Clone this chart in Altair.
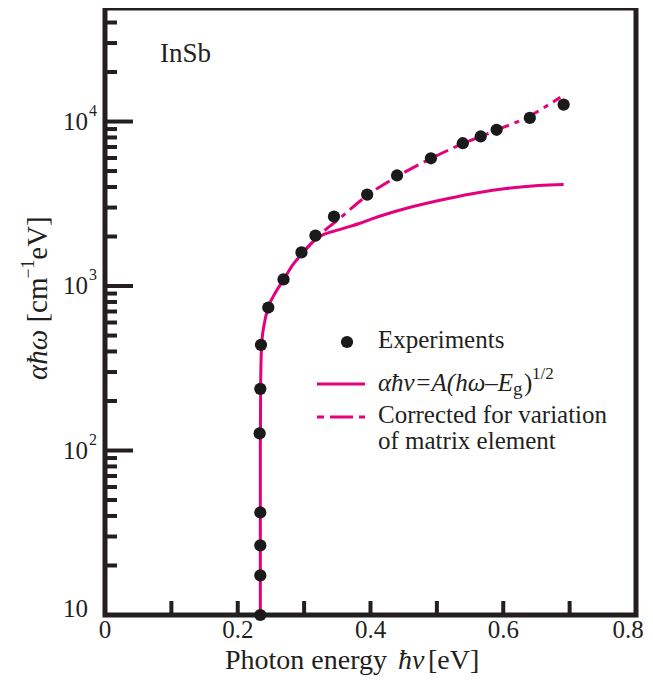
import altair as alt
import pandas as pd

# ---------------- data ----------------
exp_x = [0.234, 0.234, 0.234, 0.234, 0.233, 0.234, 0.235, 0.246, 0.269, 0.296,
         0.317, 0.345, 0.395, 0.440, 0.491, 0.539, 0.566, 0.590, 0.640, 0.691]
exp_y = [10, 17.4, 26.5, 42, 127, 237, 439, 740, 1097, 1600,
         2027, 2645, 3595, 4700, 5980, 7380, 8110, 8910, 10520, 12670]

solid_x = [0.234, 0.234, 0.2345, 0.236, 0.240, 0.246, 0.256, 0.269, 0.282, 0.296,
           0.320, 0.353, 0.383, 0.402, 0.453, 0.503, 0.553, 0.604, 0.653, 0.691]
solid_y = [10, 100, 250, 440, 590, 740, 900, 1090, 1330, 1560,
           1960, 2200, 2400, 2560, 2960, 3310, 3640, 3910, 4080, 4140]

dash_x = [0.296, 0.320, 0.353, 0.395, 0.440, 0.490, 0.538, 0.588, 0.638, 0.686]
dash_y = [1560, 1990, 2565, 3550, 4630, 5930, 7310, 8810, 10720, 14060]

x_tick_vals = [0.1, 0.2, 0.3, 0.4, 0.5, 0.6, 0.7]
x_label_vals = [0, 0.2, 0.4, 0.6]
x_label_text = ["0", "0.2", "0.4", "0.6"]
x_last_val = [0.8]
x_last_text = ["0.8"]
y_major = [100, 1000, 10000]
y_label_sup = ["2", "3", "4"]
y_bottom = [10]
y_minor = [20, 30, 40, 50, 60, 70, 80, 90,
           200, 300, 400, 500, 600, 700, 800, 900,
           2000, 3000, 4000, 5000, 6000, 7000, 8000, 9000,
           20000, 30000, 40000]

# ---------------- styling ----------------
PINK = "#E5007D"
INK = "#231F20"
FONT = "Liberation Serif"
W, H = 531, 607

xs = alt.Scale(domain=[0, 0.8], nice=False, zero=False)
ys = alt.Scale(type="log", domain=[10, 49000], nice=False)


def X(field):
    return alt.X(f"{field}:Q", scale=xs, axis=None)


def Y(field):
    return alt.Y(f"{field}:Q", scale=ys, axis=None)


exp_df = pd.DataFrame({"x": exp_x, "y": exp_y})
solid_df = pd.DataFrame({"x": solid_x, "y": solid_y})
dash_df = pd.DataFrame({"x": dash_x, "y": dash_y})

solid = alt.Chart(solid_df).mark_line(color=PINK, strokeWidth=3, interpolate="monotone",
                                      clip=True).encode(x=X("x"), y=Y("y"))
dashed = alt.Chart(dash_df).mark_line(color=PINK, strokeWidth=3, interpolate="monotone",
                                      strokeDash=[16, 6, 5, 6], clip=True).encode(x=X("x"), y=Y("y"))
points = alt.Chart(exp_df).mark_point(filled=True, size=150, color="#1a1a1a",
                                      opacity=1).encode(x=X("x"), y=Y("y"))

# inward ticks
xt = alt.Chart(pd.DataFrame({"xt": x_tick_vals})).mark_rule(color=INK, strokeWidth=4).encode(
    x=X("xt"), y=alt.value(H), y2=alt.value(H - 14))
ymaj = alt.Chart(pd.DataFrame({"yt": y_bottom + y_major})).mark_rule(color=INK, strokeWidth=4).encode(
    y=Y("yt"), x=alt.value(0), x2=alt.value(28))
ymin = alt.Chart(pd.DataFrame({"yt": y_minor})).mark_rule(color=INK, strokeWidth=4).encode(
    y=Y("yt"), x=alt.value(0), x2=alt.value(12))

# x tick labels
xlab = alt.Chart(pd.DataFrame({"xl": x_label_vals, "t": x_label_text})).mark_text(
    font=FONT, fontSize=25, color=INK, align="center", baseline="middle").encode(
    x=X("xl"), y=alt.value(H + 15), text="t:N")
xlab_last = alt.Chart(pd.DataFrame({"xl": x_last_val, "t": x_last_text})).mark_text(
    font=FONT, fontSize=25, color=INK, align="center", baseline="middle", dx=-8).encode(
    x=X("xl"), y=alt.value(H + 15), text="t:N")

# y tick labels with superscripts
ylab = alt.Chart(pd.DataFrame({"yl": y_major, "sup": y_label_sup})).mark_text(
    font=FONT, fontSize=25, color=INK, align="right", baseline="middle").encode(
    y=Y("yl"), x=alt.value(-17), text=alt.value("10"))
ysup = alt.Chart(pd.DataFrame({"yl": y_major, "sup": y_label_sup})).mark_text(
    font=FONT, fontSize=16, color=INK, align="left", baseline="middle", dy=-11).encode(
    y=Y("yl"), x=alt.value(-16), text="sup:N")
ylab_bottom = alt.Chart(pd.DataFrame({"yl": y_bottom})).mark_text(
    font=FONT, fontSize=25, color=INK, align="right", baseline="middle", dy=-6).encode(
    y=Y("yl"), x=alt.value(-17), text=alt.value("10"))


def txt(s, x, y, size=25, style="normal", align="left", angle=0, baseline="middle"):
    return alt.Chart(pd.DataFrame({"t": [s]})).mark_text(
        font=FONT, fontSize=size, fontStyle=style, color=INK, align=align,
        baseline=baseline, angle=angle).encode(x=alt.value(x), y=alt.value(y), text="t:N")


texts = [
    txt("InSb", 55, 46, size=27),
    # x title
    txt("Photon energy", 120, 661, size=28, baseline="alphabetic"),
    txt("ħν", 293, 661, size=28, style="italic", baseline="alphabetic"),
    txt("[eV]", 323, 661, size=28, baseline="alphabetic"),
    # y title (rotated)
    txt("αħω", -67, 347, size=29, style="italic", align="center", angle=270),
    txt("[cm", -67, 292, size=29, align="center", angle=270),
    txt("−1", -76, 261, size=18, align="center", angle=270),
    txt("eV]", -67, 230, size=29, align="center", angle=270),
    # legend
    txt("Experiments", 273, 332),
    txt("αħν=A(hω–E", 273, 375, style="italic"),
    txt("g", 408, 381, size=19),
    txt(")", 419, 375),
    txt("1/2", 427, 366, size=17),
    txt("Corrected for variation", 273, 407),
    txt("of matrix element", 273, 433),
]

leg_pt = alt.Chart(pd.DataFrame({"a": [0]})).mark_point(
    filled=True, size=150, color="#1a1a1a", opacity=1).encode(x=alt.value(242), y=alt.value(334))
leg_solid = alt.Chart(pd.DataFrame({"a": [0]})).mark_rule(color=PINK, strokeWidth=3).encode(
    x=alt.value(212), x2=alt.value(260), y=alt.value(376))
leg_dash = alt.Chart(pd.DataFrame({"a": [0]})).mark_rule(
    color=PINK, strokeWidth=3, strokeDash=[7, 6, 23, 6]).encode(
    x=alt.value(212), x2=alt.value(260), y=alt.value(409))

chart = alt.layer(
    solid, dashed, points, xt, ymaj, ymin, xlab, xlab_last, ylab, ysup, ylab_bottom,
    leg_pt, leg_solid, leg_dash, *texts
).properties(
    width=W, height=H,
    autosize=alt.AutoSizeParams(type="none"),
    padding={"left": 97, "top": 0, "right": 9, "bottom": 61},
).configure_view(
    stroke=INK, strokeWidth=5
)

chart.save("out.html", embed_options={"renderer": "svg", "actions": False})
